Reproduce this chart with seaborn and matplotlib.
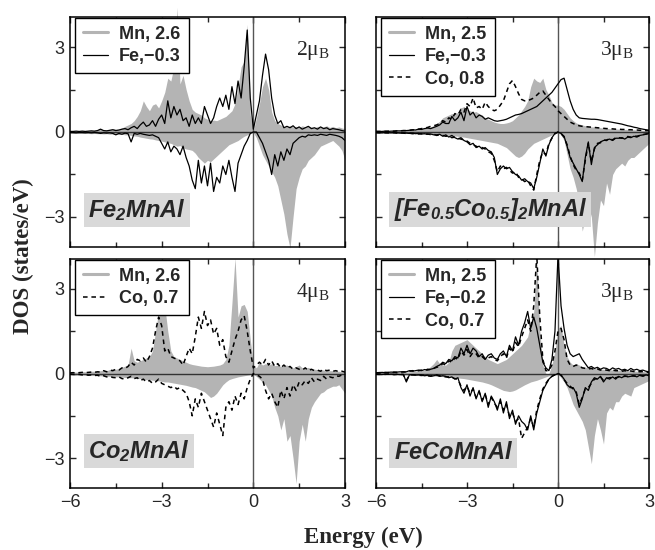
import numpy as np
import matplotlib
matplotlib.use('Agg')
import matplotlib.pyplot as plt
import seaborn as sns
from matplotlib.lines import Line2D

sns.set_theme(style='ticks')
plt.rcParams['font.family'] = ['Liberation Sans', 'DejaVu Sans']
plt.rcParams['mathtext.fontset'] = 'custom'
plt.rcParams['mathtext.rm'] = 'Liberation Serif'
plt.rcParams['mathtext.bf'] = 'Liberation Sans:bold:italic'
plt.rcParams['xtick.direction'] = 'in'
plt.rcParams['ytick.direction'] = 'in'

# energy grid (eV), 0.1 eV step
energy = np.linspace(-6, 3, 91)

# ---- Fe2MnAl ----
mn_up_1 = [0.05,0.05,0.04,0.05,0.06,0.05,0.04,0.05,0.06,0.08,
           0.10,0.08,0.07,0.09,0.12,0.10,0.09,0.14,0.20,0.25,
           0.30,0.40,0.55,0.75,1.10,0.90,0.75,0.95,1.00,0.85,
           1.10,1.40,1.90,1.80,2.30,4.40,1.70,2.00,1.50,1.10,
           0.80,0.70,0.65,0.60,0.50,0.45,0.40,0.42,0.40,0.45,
           0.50,0.55,0.65,0.75,1.00,1.60,2.30,2.50,3.80,0.60,
           0.05,0.50,1.00,1.60,1.90,1.50,0.70,0.40,0.30,0.25,
           0.20,0.18,0.22,0.18,0.20,0.16,0.22,0.18,0.20,0.17,
           0.15,0.20,0.16,0.18,0.22,0.16,0.20,0.15,0.18,0.14,
           0.12]
mn_dn_1 = [-0.04,-0.05,-0.04,-0.05,-0.05,-0.04,-0.05,-0.06,-0.05,-0.06,
           -0.06,-0.07,-0.06,-0.08,-0.07,-0.08,-0.09,-0.08,-0.10,-0.10,
           -0.12,-0.14,-0.15,-0.18,-0.20,-0.22,-0.24,-0.25,-0.28,-0.30,
           -0.32,-0.35,-0.38,-0.40,-0.45,-0.50,-0.48,-0.55,-0.60,-0.62,
           -0.65,-0.75,-0.90,-1.00,-1.10,-1.00,-1.05,-0.95,-0.85,-0.75,
           -0.65,-0.55,-0.45,-0.40,-0.35,-0.30,-0.22,-0.15,-0.10,-0.05,
           -0.02,-0.20,-0.50,-0.80,-1.00,-1.20,-1.40,-1.60,-1.90,-2.40,
           -2.90,-3.60,-4.10,-3.00,-2.00,-1.60,-1.30,-1.20,-1.00,-0.90,
           -0.80,-0.65,-0.50,-0.45,-0.40,-0.35,-0.30,-0.40,-0.50,-0.65,
           -1.00]
fe_up_1 = [0.02,0.02,0.03,0.02,0.03,0.02,0.03,0.04,0.03,0.05,
           0.10,0.05,0.04,0.06,0.08,0.05,0.07,0.10,0.12,0.08,
           0.15,0.20,0.12,0.25,0.35,0.20,0.25,0.40,0.20,0.45,
           0.60,0.30,1.10,0.50,0.90,0.60,0.80,0.40,0.50,0.20,
           0.60,0.30,0.50,0.30,0.90,0.60,0.30,0.50,0.90,1.20,
           0.90,1.30,0.80,1.60,1.00,1.80,1.20,2.30,3.60,1.20,
           0.10,0.60,1.10,2.00,2.75,2.20,1.20,0.60,0.30,0.40,
           0.15,0.20,0.15,0.22,0.12,0.18,0.10,0.15,0.20,0.12,
           0.15,0.10,0.18,0.12,0.15,0.08,0.12,0.10,0.08,0.05,
           0.03]
fe_dn_1 = [-0.02,-0.02,-0.03,-0.02,-0.02,-0.03,-0.02,-0.03,-0.02,-0.03,
           -0.05,-0.03,-0.04,-0.03,-0.05,-0.10,-0.05,-0.08,-0.04,-0.06,
           -0.35,-0.05,-0.08,-0.05,-0.08,-0.10,-0.12,-0.10,-0.15,-0.20,
           -0.40,-0.60,-0.35,-0.70,-0.50,-0.60,-0.80,-0.50,-0.90,-1.20,
           -1.70,-2.00,-1.00,-1.80,-1.20,-1.90,-1.10,-2.10,-1.60,-1.80,
           -1.20,-1.50,-1.00,-1.60,-2.10,-1.10,-0.80,-0.50,-0.30,-0.05,
           0.00,0.00,-0.20,-0.40,-0.70,-1.00,-1.50,-0.80,-1.20,-0.70,
           -1.00,-0.60,-0.80,-0.40,-0.30,-0.20,-0.15,-0.18,-0.10,-0.12,
           -0.10,-0.12,-0.08,-0.10,-0.12,-0.08,-0.10,-0.12,-0.15,-0.20,
           -0.30]

# ---- [Fe0.5Co0.5]2MnAl ----
mn_up_2 = [0.02,0.02,0.03,0.02,0.03,0.03,0.04,0.03,0.04,0.05,
           0.05,0.06,0.07,0.08,0.10,0.10,0.12,0.15,0.18,0.22,
           0.30,0.38,0.50,0.55,0.60,0.65,0.62,0.70,0.85,0.90,
           0.80,0.75,0.70,0.72,0.65,0.60,0.50,0.45,0.40,0.35,
           0.32,0.30,0.30,0.32,0.35,0.40,0.50,0.60,0.75,0.90,
           1.10,1.60,1.90,1.80,1.75,1.90,1.50,1.30,1.05,0.95,
           0.95,0.90,0.80,0.65,0.50,0.40,0.32,0.28,0.25,0.22,
           0.20,0.18,0.18,0.16,0.15,0.14,0.13,0.12,0.12,0.11,
           0.10,0.10,0.09,0.09,0.08,0.08,0.07,0.07,0.06,0.06,
           0.05]
mn_dn_2 = [-0.02,-0.02,-0.02,-0.03,-0.02,-0.03,-0.03,-0.03,-0.04,-0.04,
           -0.04,-0.05,-0.05,-0.05,-0.06,-0.06,-0.07,-0.07,-0.08,-0.08,
           -0.09,-0.10,-0.10,-0.11,-0.12,-0.13,-0.14,-0.15,-0.17,-0.18,
           -0.20,-0.22,-0.24,-0.26,-0.28,-0.30,-0.32,-0.34,-0.36,-0.38,
           -0.40,-0.45,-0.50,-0.55,-0.65,-0.75,-0.85,-0.90,-0.85,-0.75,
           -0.60,-0.50,-0.40,-0.35,-0.30,-0.25,-0.20,-0.15,-0.10,-0.05,
           -0.03,-0.10,-0.30,-0.80,-1.30,-1.60,-2.00,-2.50,-3.50,-3.00,
           -2.60,-3.00,-4.40,-3.20,-2.40,-2.60,-1.80,-2.20,-1.50,-1.30,
           -1.20,-1.10,-1.20,-1.00,-0.90,-0.90,-0.80,-0.70,-0.60,-0.50,
           -0.40]
fe_up_2 = [0.02,0.02,0.02,0.03,0.02,0.03,0.03,0.04,0.04,0.05,
           0.05,0.06,0.08,0.07,0.10,0.09,0.12,0.14,0.12,0.16,
           0.20,0.25,0.35,0.30,0.30,0.55,0.40,0.50,0.70,0.40,
           0.90,0.60,0.70,0.50,0.60,0.55,0.45,0.50,0.45,0.40,
           0.38,0.40,0.42,0.45,0.50,0.55,0.60,0.62,0.65,0.70,
           0.75,0.80,0.85,0.90,1.00,1.10,1.20,1.30,1.40,1.55,
           1.70,1.85,1.90,1.50,1.10,0.80,0.60,0.50,0.48,0.47,
           0.46,0.45,0.45,0.44,0.42,0.40,0.38,0.36,0.34,0.32,
           0.30,0.28,0.25,0.22,0.20,0.17,0.15,0.12,0.10,0.08,
           0.06]
co_up_2 = [0.02,0.02,0.02,0.02,0.03,0.03,0.03,0.04,0.04,0.05,
           0.05,0.06,0.07,0.08,0.10,0.12,0.14,0.16,0.20,0.22,
           0.25,0.30,0.40,0.35,0.50,0.45,0.65,0.60,0.80,0.70,
           1.00,0.90,1.20,0.85,0.90,0.80,1.05,0.90,0.80,0.75,
           0.80,0.95,1.10,1.40,1.70,1.82,1.60,1.35,1.15,1.10,
           1.10,1.15,1.20,1.30,1.40,1.45,1.30,1.15,1.00,0.90,
           0.75,0.65,0.55,0.45,0.35,0.30,0.25,0.22,0.20,0.19,
           0.18,0.17,0.16,0.15,0.14,0.13,0.12,0.12,0.11,0.10,
           0.10,0.09,0.09,0.08,0.08,0.07,0.07,0.06,0.06,0.05,
           0.05]
fe_dn_2 = [-0.02,-0.02,-0.03,-0.02,-0.03,-0.03,-0.02,-0.03,-0.04,-0.03,
           -0.04,-0.05,-0.04,-0.06,-0.05,-0.07,-0.06,-0.08,-0.07,-0.10,
           -0.10,-0.08,-0.15,-0.10,-0.18,-0.12,-0.20,-0.25,-0.20,-0.30,
           -0.35,-0.45,-0.40,-0.55,-0.50,-0.60,-0.55,-0.65,-0.70,-0.90,
           -1.50,-1.30,-1.20,-1.30,-1.25,-1.40,-1.50,-1.55,-1.70,-1.65,
           -1.75,-1.80,-2.00,-1.60,-1.10,-0.60,-0.85,-0.45,-0.20,-0.05,
           0.00,-0.05,-0.15,-0.50,-0.90,-1.10,-1.30,-1.50,-1.75,-0.90,
           -0.35,-1.15,-0.55,-0.45,-0.35,-0.30,-0.28,-0.25,-0.30,-0.22,
           -0.22,-0.20,-0.25,-0.18,-0.20,-0.15,-0.18,-0.12,-0.10,-0.08,
           -0.05]
co_dn_2 = [-0.02,-0.03,-0.02,-0.03,-0.03,-0.02,-0.03,-0.04,-0.03,-0.04,
           -0.05,-0.04,-0.06,-0.05,-0.07,-0.06,-0.08,-0.07,-0.09,-0.08,
           -0.12,-0.10,-0.12,-0.15,-0.14,-0.20,-0.18,-0.22,-0.25,-0.28,
           -0.32,-0.40,-0.45,-0.50,-0.55,-0.55,-0.60,-0.70,-0.75,-1.00,
           -1.40,-1.20,-1.30,-1.25,-1.35,-1.45,-1.40,-1.60,-1.65,-1.75,
           -1.70,-1.90,-2.05,-1.50,-1.00,-0.70,-0.80,-0.40,-0.22,-0.06,
           0.00,-0.06,-0.18,-0.45,-0.85,-1.15,-1.35,-1.45,-1.70,-1.00,
           -0.40,-1.05,-0.60,-0.40,-0.38,-0.28,-0.30,-0.22,-0.28,-0.20,
           -0.20,-0.22,-0.20,-0.16,-0.18,-0.14,-0.15,-0.12,-0.09,-0.07,
           -0.05]

# ---- Co2MnAl ----
mn_up_3 = [0.05,0.06,0.05,0.06,0.07,0.06,0.07,0.08,0.08,0.09,
           0.10,0.12,0.10,0.14,0.16,0.15,0.18,0.22,0.26,0.30,
           0.90,0.45,0.40,0.45,0.50,0.55,0.60,0.80,1.50,2.20,
           2.50,2.40,1.50,0.80,0.60,0.55,0.50,0.45,0.40,0.35,
           0.32,0.30,0.28,0.26,0.25,0.24,0.25,0.26,0.28,0.30,
           0.35,0.50,1.00,2.50,4.10,2.00,2.40,2.45,2.20,1.20,
           0.30,0.20,0.40,0.30,0.35,0.30,0.35,0.28,0.30,0.25,
           0.28,0.30,0.22,0.20,0.25,0.30,0.20,0.18,0.22,0.16,
           0.15,0.14,0.15,0.12,0.12,0.10,0.10,0.08,0.08,0.06,
           0.05]
mn_dn_3 = [-0.04,-0.05,-0.05,-0.06,-0.05,-0.06,-0.07,-0.06,-0.07,-0.08,
           -0.08,-0.09,-0.10,-0.10,-0.11,-0.12,-0.12,-0.13,-0.14,-0.15,
           -0.15,-0.16,-0.18,-0.18,-0.20,-0.22,-0.22,-0.24,-0.25,-0.26,
           -0.28,-0.30,-0.30,-0.32,-0.34,-0.36,-0.38,-0.40,-0.42,-0.45,
           -0.48,-0.50,-0.55,-0.60,-0.65,-0.75,-0.85,-0.80,-0.70,-0.55,
           -0.40,-0.30,-0.22,-0.18,-0.15,-0.12,-0.10,-0.08,-0.06,-0.04,
           -0.03,-0.10,-0.20,-0.30,-0.40,-0.60,-0.80,-1.20,-1.50,-2.00,
           -1.60,-2.40,-2.20,-3.00,-3.90,-2.40,-1.80,-2.40,-1.60,-1.20,
           -1.00,-0.85,-0.70,-0.65,-0.55,-0.50,-0.45,-0.45,-0.40,-0.55,
           -0.70]
co_up_3 = [0.02,0.03,0.02,0.03,0.04,0.03,0.04,0.05,0.04,0.06,
           0.05,0.10,0.06,0.12,0.10,0.15,0.12,0.20,0.18,0.25,
           0.40,0.30,0.50,0.45,0.55,0.40,0.60,0.90,1.50,2.00,
           1.70,0.80,0.90,0.60,0.55,0.50,0.45,0.30,0.60,0.90,
           0.70,1.30,2.00,1.60,2.20,1.70,1.90,1.40,1.60,1.00,
           1.20,0.60,0.40,0.80,1.20,1.50,1.90,2.05,1.50,0.80,
           0.20,0.30,0.40,0.30,0.50,0.30,0.45,0.25,0.35,0.20,
           0.30,0.20,0.25,0.15,0.20,0.15,0.12,0.20,0.10,0.15,
           0.10,0.12,0.08,0.15,0.10,0.12,0.08,0.10,0.06,0.08,
           0.05]
co_dn_3 = [-0.02,-0.03,-0.04,-0.03,-0.05,-0.04,-0.06,-0.05,-0.07,-0.06,
           -0.10,-0.08,-0.12,-0.10,-0.14,-0.15,-0.12,-0.18,-0.20,-0.15,
           -0.10,-0.18,-0.15,-0.25,-0.20,-0.30,-0.25,-0.35,-0.30,-0.20,
           -0.35,-0.40,-0.45,-0.50,-0.45,-0.55,-0.50,-0.60,-0.70,-1.00,
           -1.50,-0.90,-1.20,-0.70,-1.00,-1.30,-1.60,-1.90,-1.40,-1.80,
           -2.20,-1.20,-1.00,-1.30,-0.80,-1.10,-0.70,-0.90,-0.50,-0.20,
           0.00,-0.05,-0.10,-0.20,-0.60,-0.90,-0.70,-1.00,-1.20,-0.60,
           -0.90,-0.50,-0.80,-0.40,-0.60,-0.30,-0.40,-0.25,-0.35,-0.15,
           -0.30,-0.20,-0.25,-0.10,-0.20,-0.12,-0.15,-0.08,-0.10,-0.05,
           -0.10]

# ---- FeCoMnAl ----
mn_up_4 = [0.02,0.02,0.03,0.02,0.03,0.03,0.04,0.03,0.04,0.05,
           0.05,0.06,0.07,0.08,0.10,0.10,0.12,0.15,0.25,0.35,
           0.50,0.35,0.30,0.30,0.40,0.80,1.00,1.05,1.10,1.15,
           1.20,1.10,1.00,0.90,0.80,0.70,0.60,0.50,0.45,0.40,
           0.35,0.40,0.45,0.50,0.60,0.70,0.80,0.90,1.00,1.15,
           1.30,1.80,2.20,4.05,1.50,0.30,0.00,0.00,0.30,0.80,
           1.60,1.70,1.00,0.60,0.40,0.30,0.35,0.30,0.25,0.22,
           0.20,0.18,0.18,0.16,0.15,0.15,0.14,0.13,0.13,0.12,
           0.12,0.11,0.11,0.10,0.10,0.09,0.08,0.08,0.07,0.06,
           0.05]
mn_dn_4 = [-0.02,-0.02,-0.02,-0.03,-0.03,-0.03,-0.04,-0.04,-0.04,-0.05,
           -0.05,-0.05,-0.06,-0.06,-0.07,-0.07,-0.08,-0.08,-0.09,-0.09,
           -0.10,-0.10,-0.11,-0.12,-0.13,-0.14,-0.15,-0.16,-0.17,-0.18,
           -0.20,-0.22,-0.24,-0.26,-0.28,-0.30,-0.33,-0.36,-0.40,-0.45,
           -0.50,-0.55,-0.60,-0.62,-0.64,-0.62,-0.58,-0.52,-0.46,-0.40,
           -0.35,-0.30,-0.27,-0.24,-0.20,-0.16,-0.12,-0.08,-0.05,-0.03,
           -0.02,-0.15,-0.30,-0.50,-0.80,-1.10,-1.30,-1.50,-1.70,-2.00,
           -2.60,-3.20,-2.20,-1.60,-2.00,-2.50,-1.40,-1.20,-1.30,-1.00,
           -1.00,-0.80,-0.70,-0.75,-0.80,-0.50,-0.45,-0.40,-0.35,-0.30,
           -0.25]
fe_up_4 = [0.03,0.03,0.04,0.03,0.04,0.05,0.04,0.05,0.06,0.05,
           0.06,0.10,0.08,0.10,0.12,0.10,0.14,0.12,0.15,0.18,
           0.25,0.30,0.40,0.35,0.50,0.45,0.60,0.55,0.90,0.70,
           1.00,0.70,0.90,0.80,0.60,0.70,0.50,0.65,0.70,0.55,
           0.50,0.70,0.80,0.60,1.00,0.80,1.30,1.00,1.50,1.80,
           2.20,1.60,2.00,1.60,1.00,0.40,0.20,0.10,0.50,1.50,
           4.20,2.40,1.60,1.00,0.70,0.60,0.65,0.70,0.50,0.35,
           0.20,0.25,0.18,0.22,0.15,0.20,0.18,0.12,0.20,0.15,
           0.18,0.12,0.15,0.10,0.18,0.12,0.15,0.10,0.12,0.08,
           0.06]
co_up_4 = [0.02,0.03,0.03,0.04,0.03,0.04,0.05,0.04,0.05,0.06,
           0.05,0.08,0.10,0.08,0.10,0.12,0.10,0.15,0.14,0.18,
           0.22,0.25,0.35,0.30,0.45,0.40,0.55,0.50,0.80,0.65,
           0.85,0.60,0.75,0.70,0.55,0.60,0.50,0.55,0.60,0.50,
           0.45,0.60,0.70,0.55,0.90,0.75,1.10,0.95,1.30,1.60,
           1.90,1.50,2.40,4.20,2.00,0.50,0.10,0.10,0.30,0.80,
           1.50,1.60,1.20,0.50,0.30,0.25,0.30,0.25,0.20,0.18,
           0.16,0.18,0.14,0.16,0.12,0.14,0.12,0.10,0.12,0.10,
           0.10,0.08,0.10,0.08,0.09,0.07,0.08,0.06,0.07,0.05,
           0.04]
fe_dn_4 = [-0.02,-0.02,-0.03,-0.02,-0.03,-0.02,-0.03,-0.03,-0.04,-0.03,
           -0.30,-0.05,-0.04,-0.06,-0.05,-0.05,-0.08,-0.06,-0.10,-0.08,
           -0.05,-0.10,-0.08,-0.10,-0.15,-0.12,-0.20,-0.15,-0.50,-0.70,
           -0.40,-0.80,-0.50,-0.90,-0.60,-1.00,-0.70,-1.20,-0.80,-1.00,
           -1.30,-0.90,-1.40,-1.00,-1.60,-1.30,-1.80,-1.50,-1.70,-1.80,
           -2.00,-1.50,-2.00,-1.40,-1.00,-0.60,-0.40,-0.20,-0.10,-0.05,
           0.00,-0.05,-0.20,-0.40,-0.50,-0.50,-0.70,-1.20,-0.90,-0.50,
           -0.60,-0.30,-0.15,-0.20,-0.10,-0.30,-0.15,-0.20,-0.12,-0.20,
           -0.10,-0.15,-0.08,-0.12,-0.10,-0.08,-0.12,-0.06,-0.10,-0.05,
           -0.08]
co_dn_4 = [-0.02,-0.03,-0.02,-0.03,-0.02,-0.03,-0.04,-0.03,-0.03,-0.04,
           -0.25,-0.06,-0.05,-0.05,-0.06,-0.07,-0.06,-0.08,-0.09,-0.07,
           -0.06,-0.08,-0.10,-0.12,-0.12,-0.15,-0.18,-0.20,-0.45,-0.60,
           -0.45,-0.70,-0.55,-0.85,-0.65,-0.95,-0.75,-1.10,-0.85,-1.05,
           -1.20,-1.00,-1.30,-1.10,-1.50,-1.40,-1.70,-1.60,-2.30,-2.10,
           -1.90,-1.60,-1.90,-1.30,-0.90,-0.55,-0.35,-0.20,-0.10,-0.04,
           0.00,-0.06,-0.22,-0.35,-0.45,-0.55,-0.65,-1.10,-0.85,-0.55,
           -0.50,-0.35,-0.20,-0.18,-0.12,-0.25,-0.18,-0.15,-0.14,-0.15,
           -0.12,-0.12,-0.10,-0.10,-0.08,-0.09,-0.10,-0.07,-0.08,-0.06,
           -0.06]

compounds = [r'$\mathbf{Fe_2MnAl}$', r'$\mathbf{[Fe_{0.5}Co_{0.5}]_2MnAl}$',
             r'$\mathbf{Co_2MnAl}$', r'$\mathbf{FeCoMnAl}$']
moments = ['2', '3', '4', '3']
mn_labels = ['Mn, 2.6', 'Mn, 2.5', 'Mn, 2.6', 'Mn, 2.5']
fe_labels = ['Fe,\u22120.3', 'Fe,\u22120.3', None, 'Fe,\u22120.2']
co_labels = [None, 'Co, 0.8', 'Co, 0.7', 'Co, 0.7']

mn_data = [(mn_up_1, mn_dn_1), (mn_up_2, mn_dn_2), (mn_up_3, mn_dn_3), (mn_up_4, mn_dn_4)]
fe_data = [(fe_up_1, fe_dn_1), (fe_up_2, fe_dn_2), None, (fe_up_4, fe_dn_4)]
co_data = [None, (co_up_2, co_dn_2), (co_up_3, co_dn_3), (co_up_4, co_dn_4)]

GREY = '#b4b4b4'
DASH = (0, (3, 2.5))

W, H = 655, 550
fig = plt.figure(figsize=(W / 100, H / 100), dpi=100)
# panel boxes in pixels: left, top, width, height
boxes = [(70, 17, 275, 230), (376, 17, 273, 230), (70, 259, 275, 229), (376, 259, 273, 229)]

for i in range(4):
    l, t, w, h = boxes[i]
    ax = fig.add_axes([l / W, 1 - (t + h) / H, w / W, h / H])
    ax.set_facecolor('white')
    up, dn = mn_data[i]
    ax.fill_between(energy, 0, up, color=GREY, lw=0, clip_on=False, zorder=1)
    ax.fill_between(energy, 0, dn, color=GREY, lw=0, clip_on=False, zorder=1)

    handles = [Line2D([], [], color=GREY, lw=2.2)]
    labels = [mn_labels[i]]
    if fe_data[i] is not None:
        for arr in fe_data[i]:
            sns.lineplot(x=energy, y=arr, ax=ax, color='black', lw=0.9, zorder=3)
        handles.append(Line2D([], [], color='black', lw=0.9))
        labels.append(fe_labels[i])
    if co_data[i] is not None:
        for arr in co_data[i]:
            sns.lineplot(x=energy, y=arr, ax=ax, color='black', lw=1.1,
                         linestyle=DASH, zorder=3)
        handles.append(Line2D([], [], color='black', lw=1.1, linestyle=DASH))
        labels.append(co_labels[i])

    ax.axhline(0, color='#333333', lw=1.0, zorder=2)
    ax.axvline(0, color='#555555', lw=1.0, zorder=2)

    ax.set_xlim(-6, 3)
    ax.set_ylim(-4.06, 4.06)
    ax.set_xticks([-6, -3, 0, 3])
    ax.set_xticks([-4.5, -1.5, 1.5], minor=True)
    ax.set_yticks([-3, 0, 3])
    ax.set_yticks([-1.5, 1.5], minor=True)
    ax.tick_params(which='both', top=True, right=True, direction='in',
                   width=1.0, labelsize=13, pad=4)
    ax.tick_params(which='major', length=4)
    ax.tick_params(which='minor', length=3.5)
    if i < 2:
        ax.tick_params(labelbottom=False)
    if i % 2 == 1:
        ax.tick_params(labelleft=False)
    ax.set_xlabel('')
    ax.set_ylabel('')
    for s in ax.spines.values():
        s.set_linewidth(1.1)
        s.set_color('black')

    leg = ax.legend(handles, labels, loc='upper left', bbox_to_anchor=(0.018, 0.997),
                    borderaxespad=0, fancybox=False, framealpha=1, edgecolor='black',
                    prop={'weight': 'bold', 'size': 13}, handlelength=1.4,
                    handletextpad=0.6, labelspacing=0.3, borderpad=0.45)
    leg.get_frame().set_linewidth(1.0)
    leg.set_zorder(5)

    ax.text(0.945, 0.905, moments[i] + '\u03bc$_\\mathrm{B}$', transform=ax.transAxes,
            ha='right', va='top', family='Liberation Serif', fontsize=15.5, zorder=6)
    ax.text(0.065, 0.105, compounds[i], transform=ax.transAxes, ha='left', va='bottom',
            fontsize=17, zorder=6,
            bbox=dict(boxstyle='square,pad=0.18', fc='#d9d9d9', ec='none'))

fig.text(23 / W, 1 - 256 / H, 'DOS (states/eV)', rotation=90, ha='center', va='center',
         family='Liberation Serif', weight='bold', fontsize=16.5)
fig.text(363 / W, 1 - 537 / H, 'Energy (eV)', ha='center', va='center',
         family='Liberation Serif', weight='bold', fontsize=16.5)

fig.savefig('out.png', dpi=100)
